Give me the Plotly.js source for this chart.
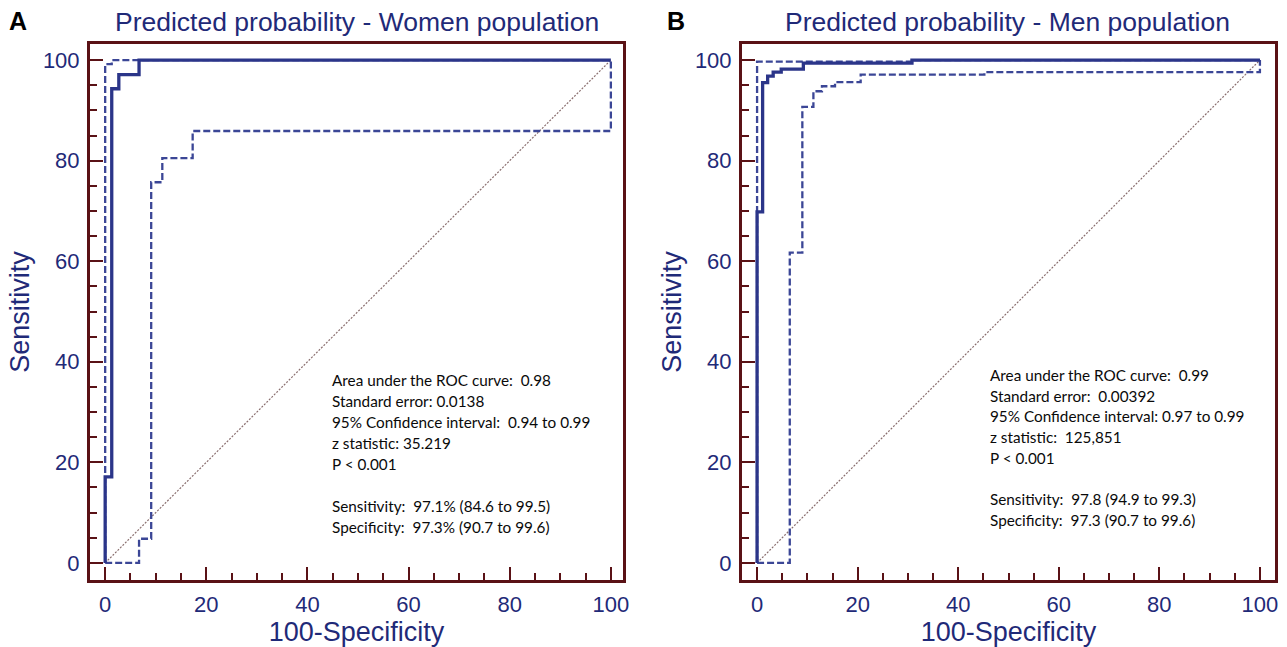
<!DOCTYPE html>
<html>
<head>
<meta charset="utf-8">
<script src="https://cdn.plot.ly/plotly-3.0.1.min.js"></script>
<style>html,body{margin:0;padding:0;background:#fff;}#chart{width:1287px;height:647px;}</style>
</head>
<body>
<div id="chart"></div>
<script>
// ---- Data ----
// Women population ROC curve (100-Specificity, Sensitivity)
const womenRocX = [0, 0, 1.3, 1.3, 2.7, 2.7, 6.7, 6.7, 100];
const womenRocY = [0, 17.1, 17.1, 94.3, 94.3, 97.1, 97.1, 100, 100];
// Women 95% CI bounds
const womenUpperX = [0, 0, 1.3, 1.3, 100];
const womenUpperY = [0, 99.2, 99.2, 100, 100];
const womenLowerX = [0, 6.7, 6.7, 9.1, 9.1, 11.3, 11.3, 17.3, 17.3, 100, 100];
const womenLowerY = [0, 0, 4.8, 4.8, 75.7, 75.7, 80.5, 80.5, 85.9, 85.9, 100];

// Men population ROC curve
const menRocX = [0, 0, 1.1, 1.1, 2.1, 2.1, 3.2, 3.2, 4.8, 4.8, 9.2, 9.2, 30.8, 30.8, 100];
const menRocY = [0, 69.8, 69.8, 95.5, 95.5, 96.8, 96.8, 97.6, 97.6, 98.2, 98.2, 99.4, 99.4, 100, 100];
// Men 95% CI bounds
const menUpperX = [0, 0, 30.8, 30.8, 100];
const menUpperY = [0, 99.7, 99.7, 100, 100];
const menLowerX = [0, 6.5, 6.5, 9.0, 9.0, 11.2, 11.2, 12.9, 12.9, 15.5, 15.5, 20.6, 20.6, 45.2, 45.2, 100, 100];
const menLowerY = [0, 0, 61.7, 61.7, 90.7, 90.7, 93.8, 93.8, 94.8, 94.8, 95.6, 95.6, 97.1, 97.1, 97.6, 97.6, 100];

// Reference diagonal
const diagX = [0, 100];
const diagY = [0, 100];

// Text
const panelLabels = ['A', 'B'];
const panelTitles = ['Predicted probability - Women population', 'Predicted probability - Men population'];
const xTitle = '100-Specificity';
const yTitle = 'Sensitivity';
const womenStats = [
  'Area under the ROC curve:  0.98',
  'Standard error: 0.0138',
  '95% Confidence interval:  0.94 to 0.99',
  'z statistic: 35.219',
  'P < 0.001',
  '',
  'Sensitivity:  97.1% (84.6 to 99.5)',
  'Specificity:  97.3% (90.7 to 99.6)'
];
const menStats = [
  'Area under the ROC curve:  0.99',
  'Standard error:  0.00392',
  '95% Confidence interval: 0.97 to 0.99',
  'z statistic:  125,851',
  'P < 0.001',
  '',
  'Sensitivity:  97.8 (94.9 to 99.3)',
  'Specificity:  97.3 (90.7 to 99.6)'
];

// ---- Styles ----
const W = 1287, H = 647;
const navy = '#2b3589';
const dashNavy = '#3b4696';
const textNavy = '#1f2a78';
const frame = '#5a1216';
const sans = 'Liberation Sans, Arial, sans-serif';

function curve(x, y, xa, ya, kind) {
  const line = kind === 'roc' ? {color: navy, width: 3.3}
    : kind === 'ci' ? {color: dashNavy, width: 2.3, dash: '7px,3px'}
    : {color: '#8a6f6f', width: 1.2, dash: '2px,1.5px'};
  return {x: x, y: y, xaxis: xa, yaxis: ya, mode: 'lines', type: 'scatter',
          line: line, hoverinfo: 'skip', showlegend: false};
}

const traces = [
  curve(diagX, diagY, 'x', 'y', 'diag'),
  curve(womenLowerX, womenLowerY, 'x', 'y', 'ci'),
  curve(womenUpperX, womenUpperY, 'x', 'y', 'ci'),
  curve(womenRocX, womenRocY, 'x', 'y', 'roc'),
  curve(diagX, diagY, 'x2', 'y2', 'diag'),
  curve(menLowerX, menLowerY, 'x2', 'y2', 'ci'),
  curve(menUpperX, menUpperY, 'x2', 'y2', 'ci'),
  curve(menRocX, menRocY, 'x2', 'y2', 'roc')
];

function axis(domain, range, anchor, titleText, standoff) {
  return {
    domain: domain, range: range, anchor: anchor,
    showline: true, mirror: true, linecolor: frame, linewidth: 3,
    ticks: 'inside', ticklen: 13, tickwidth: 2, tickcolor: frame,
    tick0: 0, dtick: 20, ticklabelstandoff: 3,
    minor: {dtick: 5, ticks: 'inside', ticklen: 7, tickwidth: 2, tickcolor: frame},
    showgrid: false, zeroline: false, fixedrange: true,
    tickfont: {family: sans, size: 22, color: textNavy},
    title: {text: titleText, font: {family: sans, size: 27, color: textNavy}, standoff: standoff}
  };
}

const yDom = [1 - 580 / H, 1 - 44 / H];
const annotations = [];
// panel letters and titles
[[18, 357], [676, 1007]].forEach((p, i) => {
  annotations.push({xref: 'paper', yref: 'paper', x: p[0] / W, y: 1 - 21 / H,
    xanchor: 'center', yanchor: 'middle', showarrow: false,
    text: '<b>' + panelLabels[i] + '</b>', font: {family: sans, size: 25, color: '#000'}});
  annotations.push({xref: 'paper', yref: 'paper', x: p[1] / W, y: 1 - 22 / H,
    xanchor: 'center', yanchor: 'middle', showarrow: false,
    text: panelTitles[i], font: {family: sans, size: 26.5, color: textNavy}});
});
// statistics text blocks
[[womenStats, 330, 380, 20.95], [menStats, 988, 375, 20.7]].forEach(b => {
  b[0].forEach((t, i) => {
    if (!t) return;
    annotations.push({xref: 'paper', yref: 'paper', x: b[1] / W, y: 1 - (b[2] + i * b[3]) / H,
      xanchor: 'left', yanchor: 'middle', showarrow: false,
      text: t.replace(/  /g, ' \u00a0'), font: {family: 'Lato, Open Sans, sans-serif', size: 15.3, color: '#0a0a0a'}});
  });
});

const layout = {
  width: W, height: H,
  margin: {l: 0, r: 0, t: 0, b: 0},
  paper_bgcolor: '#fff', plot_bgcolor: '#fff',
  showlegend: false,
  xaxis: axis([90 / W, 623 / W], [-3, 102.4], 'y', xTitle, 10),
  yaxis: axis(yDom, [-3.4, 103.2], 'x', yTitle, 6),
  xaxis2: axis([742 / W, 1275 / W], [-3, 103], 'y2', xTitle, 10),
  yaxis2: axis(yDom, [-3.4, 103.2], 'x2', yTitle, 6),
  annotations: annotations
};

Plotly.newPlot('chart', traces, layout, {displayModeBar: false, staticPlot: true});
</script>
</body>
</html>
